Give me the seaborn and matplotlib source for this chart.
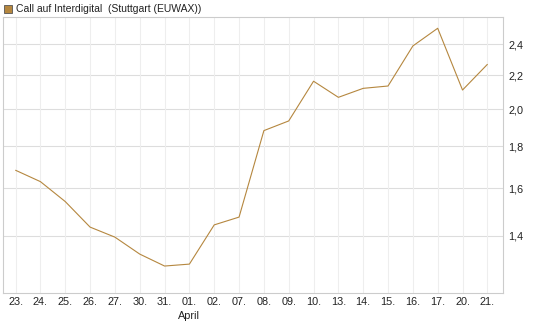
import matplotlib
matplotlib.use("Agg")
import matplotlib.pyplot as plt
import matplotlib.ticker as mticker
import seaborn as sns
import pandas as pd

dates = ["23.", "24.", "25.", "26.", "27.", "30.", "31.", "01.", "02.", "07.",
         "08.", "09.", "10.", "13.", "14.", "15.", "16.", "17.", "20.", "21."]
values = [1.683, 1.630, 1.541, 1.434, 1.394, 1.329, 1.285, 1.292, 1.443, 1.475,
          1.882, 1.934, 2.163, 2.067, 2.120, 2.134, 2.389, 2.511, 2.110, 2.268]
tick_labels = ["23.", "24.", "25.", "26.", "27.", "30.", "31.", "01.\nApril", "02.", "07.",
               "08.", "09.", "10.", "13.", "14.", "15.", "16.", "17.", "20.", "21."]
y_ticks = [1.4, 1.6, 1.8, 2.0, 2.2, 2.4]
series_name = "Call auf Interdigital  (Stuttgart (EUWAX))"

df = pd.DataFrame({"idx": list(range(len(dates))), "value": values})

sns.set_theme(style="white")
plt.rcParams["font.family"] = ["Liberation Sans", "DejaVu Sans"]

line_color = "#b5873f"
fig = plt.figure(figsize=(5.45, 3.27), dpi=100)
ax = fig.add_axes([3 / 545, 1 - 293 / 327, 500 / 545, (293 - 17) / 327])

sns.lineplot(data=df, x="idx", y="value", ax=ax, color=line_color, linewidth=0.8)

ax.set_yscale("log")
ax.set_ylim(1.191, 2.592)
ax.set_xlim(-0.507, 19.63)

ax.yaxis.set_major_locator(mticker.FixedLocator(y_ticks))
ax.yaxis.set_minor_locator(mticker.NullLocator())
ax.set_yticks(y_ticks)
ax.set_yticklabels([f"{v:.1f}".replace(".", ",") for v in y_ticks])
ax.yaxis.tick_right()
ax.set_xticks(list(range(len(dates))))
ax.set_xticklabels(tick_labels, linespacing=1.5)

ax.tick_params(axis="both", length=0, labelsize=7.8, colors="#222222")
ax.tick_params(axis="x", pad=3)
ax.tick_params(axis="y", pad=4)
for lab in ax.get_xticklabels():
    lab.set_verticalalignment("top")

ax.set_xlabel("")
ax.set_ylabel("")

ax.grid(False)
for y in y_ticks:
    ax.axhline(y, color="#dddddd", linewidth=0.8, zorder=0)
for i in range(len(dates)):
    ax.axvline(i, color="#eeeeee", linewidth=0.8, zorder=0)

for s in ["left", "right", "bottom", "top"]:
    ax.spines[s].set_visible(True)
    ax.spines[s].set_color("#cccccc")
    ax.spines[s].set_linewidth(0.8)

# legend
fig.patches.append(plt.Rectangle((4 / 545, 1 - 13 / 327), 8 / 545, 8 / 327,
                                 transform=fig.transFigure, facecolor=line_color,
                                 edgecolor="#555555", linewidth=0.6))
fig.text(16 / 545, 1 - 9 / 327, series_name, fontsize=7.5, va="center", ha="left",
         color="#222222")

fig.savefig("out.png", dpi=100)
